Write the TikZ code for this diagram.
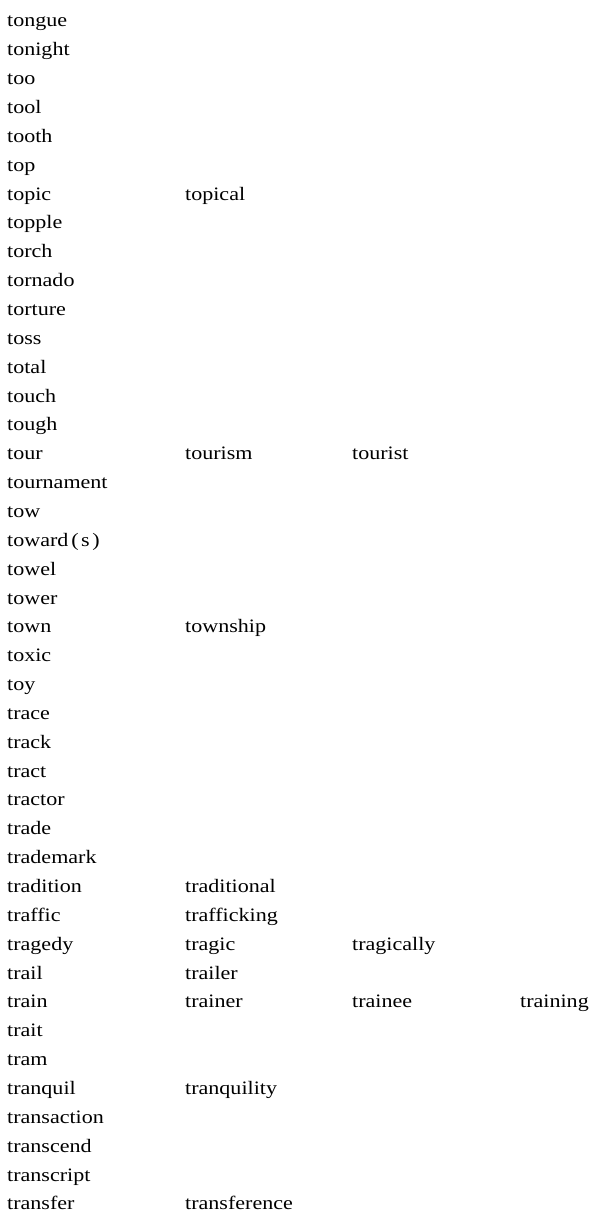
\documentclass[tikz,border=0pt]{standalone}
\usepackage{fontspec}
\setmainfont[FakeStretch=1.16]{Liberation Serif}

\begin{document}
\begin{tikzpicture}[x=1pt, y=-28.85pt,
    word/.style={anchor=base west, inner sep=0pt, font=\fontsize{19pt}{21pt}\selectfont}]
      \useasboundingbox (0,0) rectangle (604,42.357);

      % Head words
      \foreach \w [count=\i] in {tongue, tonight, too, tool, tooth, top, topic, topple,
          torch, tornado, torture, toss, total, touch, tough, tour, tournament, tow,
          {toward\kern3pt(\kern2.5pt s\kern2.5pt)}, towel, tower, town, toxic, toy, trace,
          track, tract, tractor, trade, trademark, tradition, traffic, tragedy, trail,
          train, trait, tram, tranquil, transaction, transcend, transcript, transfer}
        \node[word] (w\i) at (7, \i-0.064) {\w};

      % Second column
      \node[word] (topical) at (185, 7-0.064) {topical};
      \node[word] (tourism) at (185, 16-0.064) {tourism};
      \node[word] (township) at (185, 22-0.064) {township};
      \node[word] (traditional) at (185, 31-0.064) {traditional};
      \node[word] (trafficking) at (185, 32-0.064) {trafficking};
      \node[word] (tragic) at (185, 33-0.064) {tragic};
      \node[word] (trailer) at (185, 34-0.064) {trailer};
      \node[word] (trainer) at (185, 35-0.064) {trainer};
      \node[word] (tranquility) at (185, 38-0.064) {tranquility};
      \node[word] (transference) at (185, 42-0.064) {transference};

      % Third and fourth columns
      \node[word] (tourist) at (352, 16-0.064) {tourist};
      \node[word] (tragically) at (352, 33-0.064) {tragically};
      \node[word] (trainee) at (352, 35-0.064) {trainee};
      \node[word] (training) at (520, 35-0.064) {training};
\end{tikzpicture}
\end{document}
